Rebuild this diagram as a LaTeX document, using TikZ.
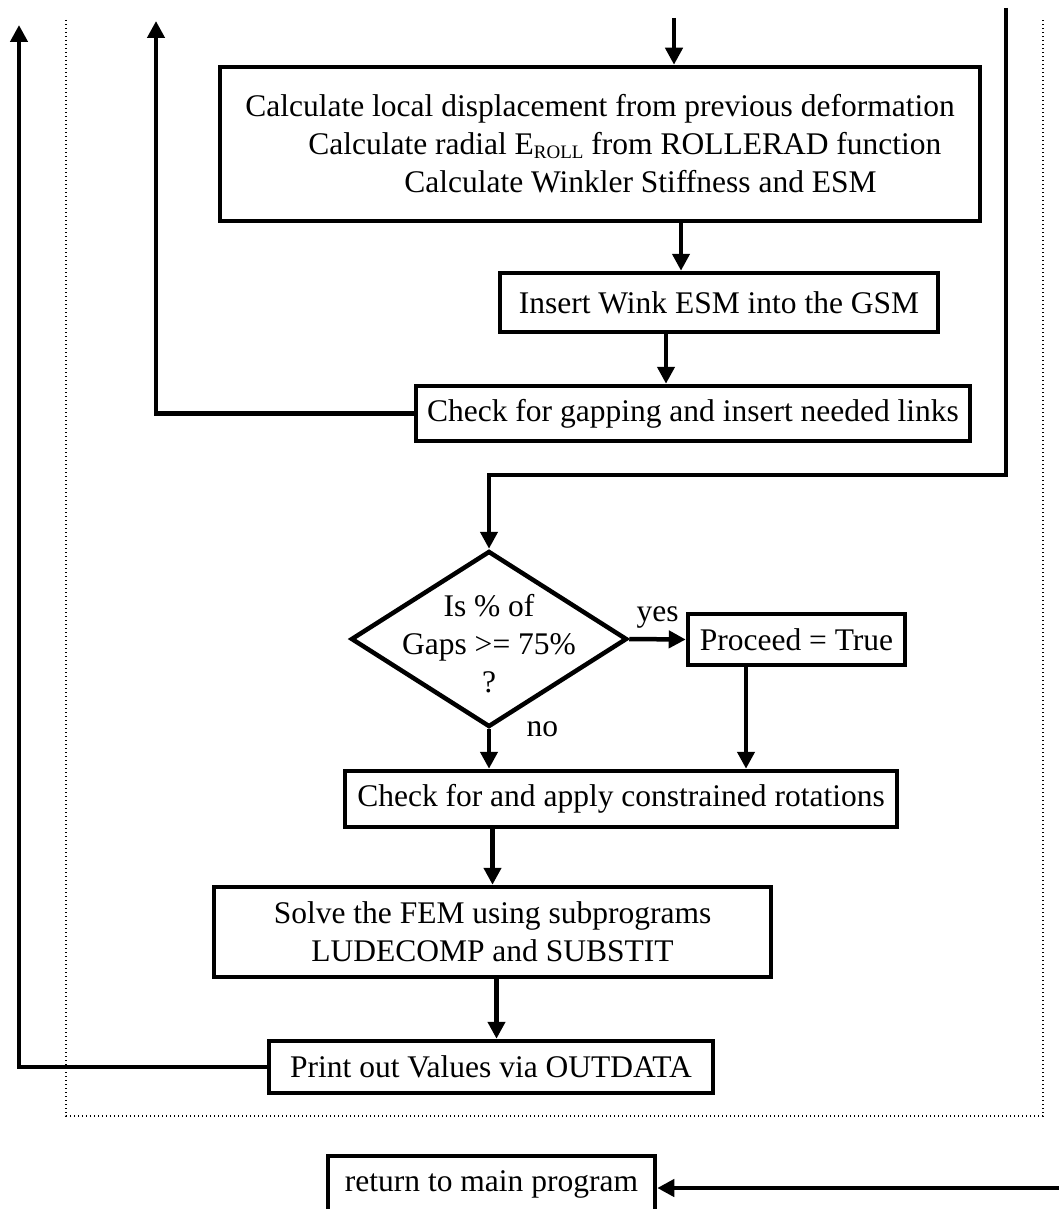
\documentclass[tikz,border=0pt]{standalone}
\usepackage{fontspec}
\setmainfont{Liberation Serif}
\usetikzlibrary{shapes.geometric, arrows.meta}

\begin{document}
\begin{tikzpicture}[x=1pt, y=-1pt,
    font=\fontsize{31.5}{38}\selectfont,
    box/.style={draw, line width=4.5pt, inner sep=3pt},
    decision/.style={draw, diamond, line width=4.5pt, inner sep=0pt,
      minimum width=276pt, minimum height=176pt},
    flow/.style={line width=4.5pt, -{Triangle[length=17pt, width=17pt]}},
    frame/.style={line width=1.4pt, dash pattern=on 1.4pt off 2.6pt}]
    \def\W{1059}

    \def\H{1209}



    \useasboundingbox (0,0) rectangle (\W,\H);

    \draw[frame] (66,20) -- (66,1116) -- (1043,1116) -- (1043,20);



    \node[box, minimum width=760pt, minimum height=154pt, align=left] (calc)
    at (600,144) {Calculate local displacement from previous deformation\\
      \hspace*{63pt}Calculate radial
      E\raisebox{-0.12em}{\fontsize{19}{19}\selectfont ROLL} from ROLLERAD function\\
      \hspace*{159pt}Calculate Winkler Stiffness and ESM};

    \node[box, minimum width=438pt, minimum height=59pt] (wink)
    at (719,302.5) {Insert Wink ESM into the GSM};

    \node[box, minimum width=554pt, minimum height=55pt] (gap)
    at (693,413.5) {Check for gapping and insert needed links};

    \node[decision, label={[align=center, yshift=-5pt]center:Is \% of\\Gaps >= 75\%\\?}]
    (dec) at (489,639) {};

    \node[box, minimum width=217pt, minimum height=51pt] (proceed)
    at (796.5,639.5) {Proceed = True};

    \node[box, minimum width=552pt, minimum height=56pt] (rot)
    at (621,799) {Check for and apply constrained rotations};

    \node[box, minimum width=557pt, minimum height=90pt, align=center] (fem)
    at (492.5,932) {Solve the FEM using subprograms\\LUDECOMP and SUBSTIT};

    \node[box, minimum width=444pt, minimum height=52pt] (out)
    at (491,1067) {Print out Values via OUTDATA};

    \node[box, minimum width=327pt, minimum height=56pt] (ret)
    at (491.5,1184) {return to main program};



    \coordinate (entry) at (674,18);

    \coordinate (loopin) at (156,21);

    \coordinate (loopout) at (19,25);

    \coordinate (rtop) at (1006,8);

    \coordinate (rbend) at (1006,475);

    \coordinate (retin) at (1062,1188);



    \draw[flow] (entry) -- (entry |- calc.north);

    \draw[flow] ([xshift=81pt]calc.south) -- ([xshift=81pt]calc.south |- wink.north);

    \draw[flow] ([xshift=-53pt]wink.south) -- ([xshift=-53pt]wink.south |- gap.north);

    \draw[flow] (gap.west) -| (loopin);

    \draw[flow] (rtop) -- (rbend) -| (dec.north);

    \draw[flow] (dec.east) -- (proceed.west) node[midway, above=5pt] {yes};

    \draw[flow] (dec.south) -- (dec.south |- rot.north) node[pos=0, right=32pt] {no};

    \draw[flow] ([xshift=-50.5pt]proceed.south) -- ([xshift=-50.5pt]proceed.south |- rot.north);

    \draw[flow] (fem.north |- rot.south) -- (fem.north);

    \draw[flow] ([xshift=4pt]fem.south) -- ([xshift=4pt]fem.south |- out.north);

    \draw[flow] (out.west) -| (loopout);

    \draw[flow] (retin) -- (retin -| ret.east);
  \end{tikzpicture}
\end{document}
